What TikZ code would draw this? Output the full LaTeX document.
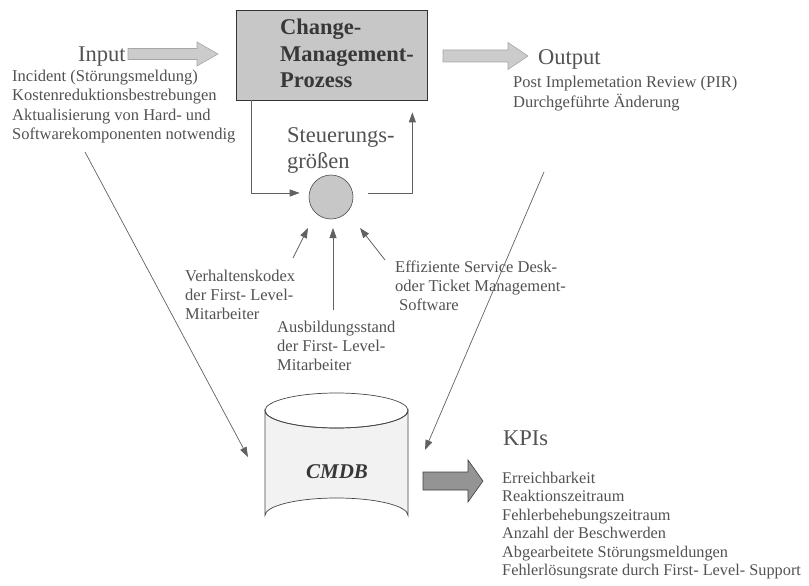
\documentclass[tikz,border=0pt]{standalone}
\usepackage{fontspec}
\setmainfont{Liberation Serif}
\usetikzlibrary{arrows.meta,calc}
\definecolor{ink}{gray}{0.32}
\definecolor{boxink}{gray}{0.22}
\definecolor{linec}{gray}{0.38}
\definecolor{boxfill}{gray}{0.78}
\definecolor{arrfill}{gray}{0.80}
\definecolor{kpifill}{gray}{0.58}
\definecolor{cylfill}{gray}{0.95}
\tikzset{
  small/.style={font=\fontsize{16.5}{19.4}\selectfont, text=ink, inner sep=0pt, align=left, anchor=base west},
  big/.style={font=\fontsize{22.5}{26}\selectfont, text=ink, inner sep=0pt, align=left, anchor=base west},
  conn/.style={draw=linec, line width=0.8pt, -{Triangle[length=10pt,width=7pt]}},
  fatarrow/.style={draw=gray!70, line width=0.6pt, fill=arrfill}
}
\begin{document}
\begin{tikzpicture}[x=1pt,y=-1pt]
\useasboundingbox (0,0) rectangle (809,586);

% process box
\node (proc) [draw=gray!40!black, line width=0.7pt, fill=boxfill, minimum width=191pt, minimum height=90pt, inner sep=0pt] at (331.5,55) {};
\node (proctext) [font=\bfseries\fontsize{22.5}{26.5}\selectfont, text=boxink, inner sep=0pt, align=left, anchor=base west] at (280,88) {Change-\\Management-\\Prozess};

% input
\node (input) [big] at (78,62) {Input};
\path[fatarrow] (128,48.5) -- (197,48.5) -- (197,42) -- (218,54) -- (197,66) -- (197,59.5) -- (128,59.5) -- cycle;
\node (intext) [small] at (12,139.5) {Incident (Störungsmeldung)\\Kostenreduktionsbestrebungen\\Aktualisierung von Hard- und\\Softwarekomponenten notwendig};

% output
\path[fatarrow] (443,50) -- (508,50) -- (508,42.5) -- (528,56) -- (508,69.5) -- (508,62) -- (443,62) -- cycle;
\node (output) [big] at (538,65) {Output};
\node (outtext) [small] at (513,107.4) {Post Implemetation Review (PIR)\\Durchgeführte Änderung};

% control loop
\node (steuer) [big] at (287,168) {Steuerungs-\\größen};
\node (ctrl) [circle, draw=gray!60!black, line width=0.6pt, fill=boxfill, minimum size=44pt, inner sep=0pt] at (331,197) {};
\draw[conn] ($(proc.south west)+(16,0)$) |- ($(ctrl.west)+(-9,-4)$);
\draw[conn] ($(ctrl.east)+(15,-4)$) -| ($(proc.south east)+(-15,12)$);

% influencing factors
\node (verh) [small] at (185,319.8) {Verhaltenskodex\\der First- Level-\\Mitarbeiter};
\node (ausb) [small] at (277,370.8) {Ausbildungsstand\\der First- Level-\\Mitarbeiter};
\node (effi) [small] at (395,310.8) {Effiziente Service Desk-\\oder Ticket Management-\\\hspace*{4pt}Software};
\coordinate (verhtop) at (293,258);
\coordinate (ausbtop) at (333,310);
\coordinate (effitop) at (385,260);
\draw[conn] (verhtop) -- ($(ctrl.center)+(-23,31)$);
\draw[conn] (ausbtop) -- ($(ctrl.center)+(2,31)$);
\draw[conn] (effitop) -- ($(ctrl.center)+(29,31)$);

% CMDB cylinder
\path[draw=gray!55!black, line width=0.7pt, fill=cylfill]
  (265,410.5) -- (265,515.5) arc (180:360:71.5 and 17.5) -- (408,410.5) arc (0:180:71.5 and 17.5) -- cycle;
\draw[gray!55!black, line width=0.7pt] (336.5,410.5) ellipse (71.5 and 17.5);
\node (cmdb) [font=\bfseries\itshape\fontsize{21}{24}\selectfont, text=boxink, inner sep=0pt] at (337,472) {CMDB};

% long connectors
\coordinate (instart) at (85,152);
\coordinate (cmdbl) at (248,457);
\coordinate (outstart) at (544,172);
\coordinate (cmdbr) at (425,450);
\draw[conn, line width=0.7pt] (instart) -- (cmdbl);
\draw[conn, line width=0.7pt] (outstart) -- (cmdbr);

% KPIs
\path[draw=gray!50!black, line width=0.6pt, fill=kpifill] (423,472) -- (468,472) -- (468,460) -- (483,481) -- (468,502) -- (468,490) -- (423,490) -- cycle;
\node (kpi) [big] at (503,445) {KPIs};
\node (kpilist) [small, font=\fontsize{16.3}{18.5}\selectfont] at (502,575.5) {Erreichbarkeit\\Reaktionszeitraum\\Fehlerbehebungszeitraum\\Anzahl der Beschwerden\\Abgearbeitete Störungsmeldungen\\Fehlerlösungsrate durch First- Level- Support};
\end{tikzpicture}
\end{document}
